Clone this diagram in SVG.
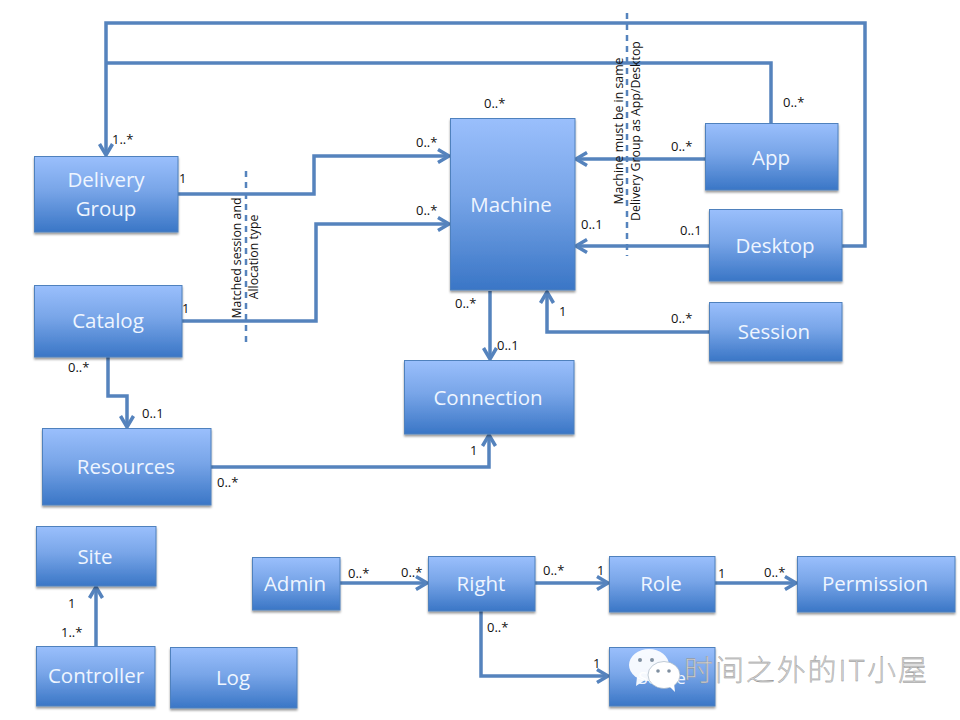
<svg xmlns="http://www.w3.org/2000/svg" width="960" height="720" viewBox="0 0 960 720">
<style>
.n{fill:url(#g);stroke:#4f81bd;stroke-width:1;filter:url(#s)}
.t{font-family:"Open Sans","Noto Sans",sans-serif;font-size:20.500px;fill:#eef5ff;text-anchor:middle}
.c{fill:none;stroke:#5583bd;stroke-width:3.500;stroke-linejoin:miter}
.a{marker-end:url(#m)}
.d{fill:none;stroke:#5583bd;stroke-width:2.500;stroke-dasharray:6 5}
.l{font-family:"Open Sans","Noto Sans",sans-serif;font-size:13px;fill:#111}
.v{font-family:"Open Sans","Noto Sans",sans-serif;font-size:12.300px;fill:#111;text-anchor:middle}
.w{font-family:"Noto Sans CJK SC",sans-serif;font-size:29px;font-weight:300;fill:#d4d4d4;stroke:#8a8a8a;stroke-width:.35px}
</style>
<defs>
<linearGradient id="g" x1="0" y1="0" x2="0" y2="1"><stop offset="0" stop-color="#9abffc"/><stop offset=".45" stop-color="#78a5e8"/><stop offset="1" stop-color="#3a76c6"/></linearGradient>
<filter id="s" x="-5%" y="-5%" width="110%" height="115%"><feDropShadow dx="0" dy="2" stdDeviation="1.200" flood-color="#000" flood-opacity=".4"/></filter>
<marker id="m" markerUnits="userSpaceOnUse" markerWidth="18" markerHeight="18" refX="13" refY="9" orient="auto"><path d="M2 2.500 L13 9 L2 15.500" fill="none" stroke="#5583bd" stroke-width="3.500"/></marker>
</defs>
<rect width="960" height="720" fill="#fff"/>
<g id="connectors">
<path class="c" d="M771 124V63H106"/>
<path class="c a" d="M709 246H865V23H106V155"/>
<path class="c a" d="M178 194H314V156H449"/>
<path class="c a" d="M182 321H316V224H449"/>
<path class="c a" d="M705 159H576"/>
<path class="c a" d="M709 246H576"/>
<path class="c a" d="M709 332H547V292"/>
<path class="c a" d="M490 291V359"/>
<path class="c a" d="M108 357V396H127V427"/>
<path class="c a" d="M211 467H489V435"/>
<path class="c a" d="M96 646V587"/>
<path class="c a" d="M340 583H427"/>
<path class="c a" d="M535 583H608"/>
<path class="c a" d="M715 583H796"/>
<path class="c a" d="M481 611V676H608"/>
<path class="d" d="M246 171V347"/>
<path class="d" d="M627 13V256"/>
</g>
<g id="delivery-group"><rect class="n" x="34.500" y="156.500" width="143.500" height="75.500"/><text class="t" x="106" y="187">Delivery</text><text class="t" x="106" y="216">Group</text></g>
<g id="catalog"><rect class="n" x="34.500" y="285.500" width="147.500" height="71.500"/><text class="t" x="108" y="328">Catalog</text></g>
<g id="resources"><rect class="n" x="42.500" y="428.500" width="168.500" height="76.500"/><text class="t" x="126" y="474">Resources</text></g>
<g id="site"><rect class="n" x="36.500" y="526.500" width="119.500" height="59.500"/><text class="t" x="95" y="564">Site</text></g>
<g id="controller"><rect class="n" x="36.500" y="646.500" width="118.500" height="59.500"/><text class="t" x="96" y="683">Controller</text></g>
<g id="log"><rect class="n" x="170.500" y="647.500" width="126.500" height="60.500"/><text class="t" x="233" y="685">Log</text></g>
<g id="admin"><rect class="n" x="252.500" y="557.500" width="87.500" height="52.500"/><text class="t" x="295" y="591">Admin</text></g>
<g id="right"><rect class="n" x="428.500" y="556.500" width="106.500" height="54.500"/><text class="t" x="481" y="591">Right</text></g>
<g id="role"><rect class="n" x="609.500" y="556.500" width="105.500" height="55.500"/><text class="t" x="661" y="591">Role</text></g>
<g id="permission"><rect class="n" x="797.500" y="556.500" width="157.500" height="55.500"/><text class="t" x="875" y="591">Permission</text></g>
<g id="scope"><rect class="n" x="609.500" y="647.500" width="105.500" height="58.500"/><text class="t" x="662" y="684" style="font-size:17px">Scope</text></g>
<g id="connection"><rect class="n" x="404.500" y="360.500" width="169.500" height="73.500"/><text class="t" x="488" y="405">Connection</text></g>
<g id="machine"><rect class="n" x="450.500" y="118.500" width="124.500" height="171.500"/><text class="t" x="511" y="212">Machine</text></g>
<g id="app"><rect class="n" x="705.500" y="123.500" width="132.500" height="66.500"/><text class="t" x="771" y="165">App</text></g>
<g id="desktop"><rect class="n" x="709.500" y="209.500" width="132.500" height="71.500"/><text class="t" x="775" y="253">Desktop</text></g>
<g id="session"><rect class="n" x="709.500" y="302.500" width="132.500" height="58.500"/><text class="t" x="774" y="339">Session</text></g>
<g id="labels">
<text class="l" x="112" y="144">1..*</text><text class="l" x="179" y="183">1</text><text class="l" x="182" y="313">1</text>
<text class="l" x="416" y="147">0..*</text><text class="l" x="416" y="215">0..*</text><text class="l" x="484" y="108">0..*</text>
<text class="l" x="783" y="107">0..*</text><text class="l" x="671" y="151">0..*</text><text class="l" x="581" y="229">0..1</text><text class="l" x="680" y="235">0..1</text>
<text class="l" x="455" y="308">0..*</text><text class="l" x="559" y="316">1</text><text class="l" x="671" y="323">0..*</text><text class="l" x="497" y="350">0..1</text>
<text class="l" x="68" y="372">0..*</text><text class="l" x="142" y="418">0..1</text><text class="l" x="217" y="487">0..*</text><text class="l" x="470" y="455">1</text>
<text class="l" x="68" y="608">1</text><text class="l" x="61" y="637">1..*</text>
<text class="l" x="348" y="578">0..*</text><text class="l" x="401" y="577">0..*</text><text class="l" x="543" y="575">0..*</text><text class="l" x="597" y="575">1</text>
<text class="l" x="718" y="578">1</text><text class="l" x="764" y="577">0..*</text><text class="l" x="487" y="632">0..*</text><text class="l" x="593" y="668">1</text>
<text class="v" transform="translate(241 258) rotate(-90)">Matched session  and</text>
<text class="v" transform="translate(258 257) rotate(-90)">Allocation type</text>
<text class="v" transform="translate(623 131) rotate(-90)">Machine must be in same</text>
<text class="v" transform="translate(640 131) rotate(-90)">Delivery Group as App/Desktop</text>
</g>
<g id="watermark">
<ellipse cx="649" cy="665" rx="20" ry="16" fill="#fff" opacity=".92"/>
<path d="M637 677l-1 9 9-6z" fill="#fff" opacity=".92"/>
<ellipse cx="664" cy="675" rx="16" ry="13.500" fill="#fff" stroke="#9ab" stroke-width=".6"/>
<path d="M669 686l6 6-1-9z" fill="#fff"/>
<circle cx="640" cy="660" r="2" fill="#7f8fa0"/><circle cx="652" cy="660" r="2" fill="#7f8fa0"/>
<circle cx="658" cy="671" r="1.800" fill="#7f8fa0"/><circle cx="669" cy="671" r="1.800" fill="#7f8fa0"/>
<text class="w" x="684" y="681" textLength="243">时间之外的IT小屋</text>
</g>
</svg>
